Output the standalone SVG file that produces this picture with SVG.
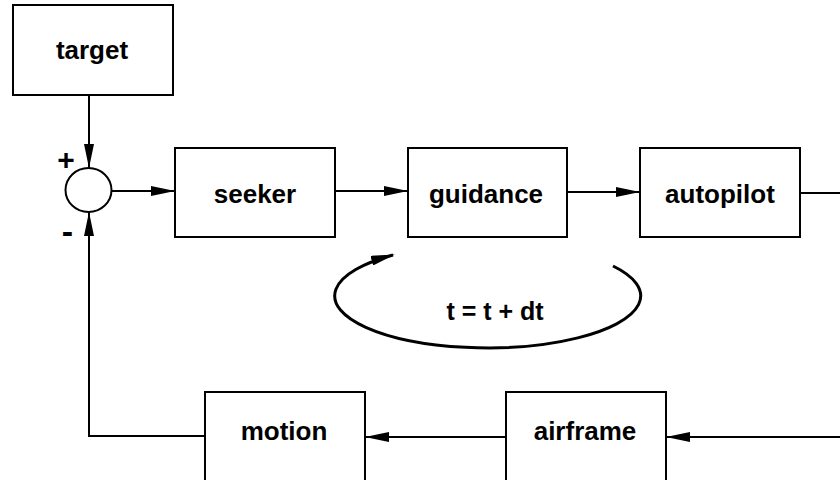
<svg xmlns="http://www.w3.org/2000/svg" width="840" height="480" viewBox="0 0 840 480">
  <style>
    .box { fill: #fff; stroke: #000; stroke-width: 2; }
    .lbl { font-family: "Liberation Sans", Arial, sans-serif; font-weight: bold; font-size: 26px; fill: #000; text-anchor: middle; }
    .sign { font-family: "Liberation Sans", Arial, sans-serif; font-weight: bold; fill: #000; text-anchor: middle; }
    .wire { fill: none; stroke: #000; stroke-width: 2; }
    .arr { marker-end: url(#head); }
  </style>
  <defs>
    <marker id="head" viewBox="0 0 24 10" refX="24" refY="5" markerWidth="24" markerHeight="10" markerUnits="userSpaceOnUse" orient="auto">
      <path d="M0,0 L24,5 L0,10 Z" fill="#000"/>
    </marker>
    <marker id="loophead" viewBox="0 0 24 10" refX="22" refY="5" markerWidth="24" markerHeight="10" markerUnits="userSpaceOnUse" orient="auto">
      <path d="M0,0 L24,5 L0,10 Z" fill="#000"/>
    </marker>
  </defs>

  <!-- connectors -->
  <g id="connectors">
    <path class="wire arr" d="M89,95 V168"/>
    <path class="wire arr" d="M112,191 H175"/>
    <path class="wire arr" d="M335,191 H408"/>
    <path class="wire arr" d="M567,192 H640"/>
    <path class="wire" d="M800,193 H840"/>
    <path class="wire arr" d="M840,437 H666"/>
    <path class="wire arr" d="M506,437 H365"/>
    <path class="wire arr" d="M205,436 H89 V212"/>
    <!-- time-step loop -->
    <path d="M613,266 A153,52 0 1 1 393,255" fill="none" stroke="#000" stroke-width="3" marker-end="url(#loophead)"/>
  </g>

  <g id="target">
    <rect class="box" x="13" y="5" width="160" height="90"/>
    <text class="lbl" x="92" y="59">target</text>
  </g>

  <g id="sum">
    <ellipse cx="88.5" cy="190" rx="23" ry="22" fill="#fff" stroke="#000" stroke-width="2"/>
    <text class="sign" x="66" y="170" style="font-size:30px">+</text>
    <text class="sign" x="67.5" y="243" style="font-size:34px">-</text>
  </g>

  <g id="seeker">
    <rect class="box" x="175" y="148" width="160" height="89"/>
    <text class="lbl" x="255" y="203">seeker</text>
  </g>

  <g id="guidance">
    <rect class="box" x="408" y="148" width="159" height="89"/>
    <text class="lbl" x="486" y="203">guidance</text>
  </g>

  <g id="autopilot">
    <rect class="box" x="640" y="148" width="160" height="89"/>
    <text class="lbl" x="720" y="203">autopilot</text>
  </g>

  <g id="airframe">
    <rect class="box" x="506" y="392" width="160" height="100"/>
    <text class="lbl" x="585" y="440">airframe</text>
  </g>

  <g id="motion">
    <rect class="box" x="205" y="392" width="160" height="100"/>
    <text class="lbl" x="284" y="440">motion</text>
  </g>

  <g id="loop-label">
    <text class="lbl" x="495" y="320" style="font-size:25px">t = t + dt</text>
  </g>
</svg>
